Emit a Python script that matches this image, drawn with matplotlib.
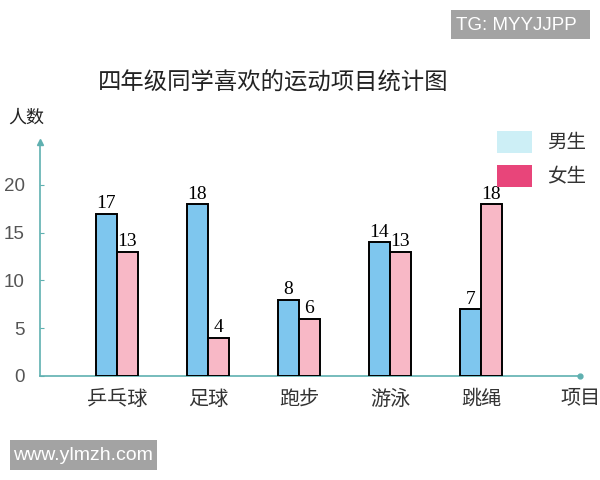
import matplotlib
matplotlib.use("Agg")
import matplotlib.pyplot as plt
import numpy as np

plt.rcParams['font.family'] = ['Noto Sans CJK SC', 'DejaVu Sans']

categories = ['乒乓球', '足球', '跑步', '游泳', '跳绳']
boys = [17, 18, 8, 14, 7]
girls = [13, 4, 6, 13, 18]
yticks = [0, 5, 10, 15, 20]
series_names = ['男生', '女生']

boy_color = '#7ec6ee'
girl_color = '#f8b8c6'
axis_color = '#5fb0b0'

W, H = 600, 480
fig = plt.figure(figsize=(6, 4.8), dpi=100)
ax = fig.add_axes([40/W, 1 - 376/H, 540/W, 234/H])

x = np.arange(len(categories))
w = 0.23
ax.bar(x - w/2, boys, width=w, color=boy_color, edgecolor='black', linewidth=1.4, zorder=3)
ax.bar(x + w/2, girls, width=w, color=girl_color, edgecolor='black', linewidth=1.4, zorder=3)

for xi, v in zip(x, boys):
    ax.text(xi - w/2, v + 0.15, str(v), ha='center', va='bottom', fontsize=14,
            family='Liberation Serif', color='black', zorder=4)
for xi, v in zip(x, girls):
    ax.text(xi + w/2, v + 0.15, str(v), ha='center', va='bottom', fontsize=14,
            family='Liberation Serif', color='black', zorder=4)

ax.set_xlim(-0.846, 5.088)
ax.set_ylim(0, 24.5)
for s in ['top', 'right']:
    ax.spines[s].set_visible(False)
for s in ['left', 'bottom']:
    ax.spines[s].set_color(axis_color)
    ax.spines[s].set_linewidth(1.2)

ax.plot([0], [1], marker='^', color=axis_color, markersize=5, transform=ax.transAxes, clip_on=False)
ax.plot([1], [0], marker='o', color=axis_color, markersize=3.5, transform=ax.transAxes, clip_on=False)

ax.set_yticks(yticks)
ax.set_yticklabels([str(t) for t in yticks], fontsize=13.5, color='#555555', family='Liberation Sans')
ax.tick_params(axis='y', direction='in', length=3, color=axis_color, pad=11)
ax.set_xticks(x)
ax.set_xticklabels(categories, fontsize=14.5, color='#333333')
ax.tick_params(axis='x', length=0, pad=9)

fig.text(273/W, 1 - 83/H, '四年级同学喜欢的运动项目统计图', ha='center', va='center', fontsize=16.8, color='#222222')
fig.text(26/W, 1 - 118/H, '人数', ha='center', va='center', fontsize=13, color='#222222')
fig.text(581/W, 1 - 398/H, '项目', ha='center', va='center', fontsize=14.5, color='#333333')

# legend
fig.patches.append(plt.Rectangle((497/W, 1 - 153/H), 35/W, 22/H, transform=fig.transFigure,
                                 facecolor='#cdeff6', edgecolor='none'))
fig.patches.append(plt.Rectangle((497/W, 1 - 187/H), 35/W, 22/H, transform=fig.transFigure,
                                 facecolor='#e8457a', edgecolor='none'))
fig.text(567/W, 1 - 142/H, series_names[0], ha='center', va='center', fontsize=14, color='#333333')
fig.text(567/W, 1 - 177/H, series_names[1], ha='center', va='center', fontsize=14, color='#333333')

# watermarks
fig.patches.append(plt.Rectangle((451/W, 1 - 39/H), 139/W, 29/H, transform=fig.transFigure,
                                 facecolor='#a3a3a3', edgecolor='none'))
fig.text(516/W, 1 - 25/H, 'TG: MYYJJPP', ha='center', va='center', fontsize=13.5, color='white',
         family='Liberation Sans')
fig.patches.append(plt.Rectangle((10/W, 1 - 470/H), 147/W, 30/H, transform=fig.transFigure,
                                 facecolor='#a3a3a3', edgecolor='none'))
fig.text(83/W, 1 - 455/H, 'www.ylmzh.com', ha='center', va='center', fontsize=14, color='white',
         family='Liberation Sans')

fig.savefig('out.png', dpi=100)
